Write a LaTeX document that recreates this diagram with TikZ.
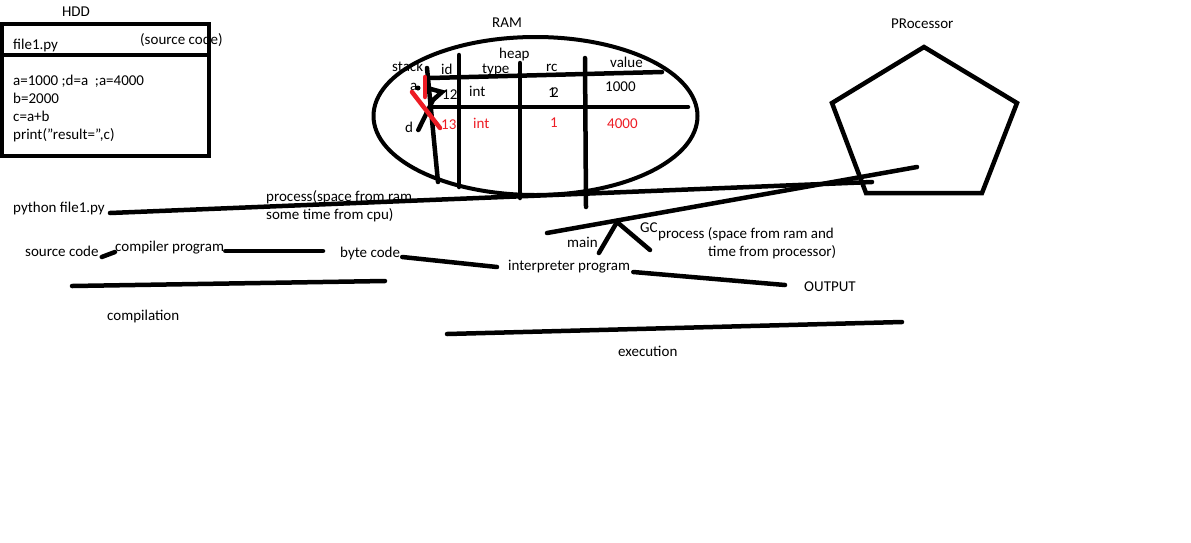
\documentclass[tikz,border=0pt]{standalone}
\usepackage{fontspec}
\setmainfont{Carlito}
\usepackage{tikz}
\definecolor{paintred}{RGB}{237,28,36}

\begin{document}
\begin{tikzpicture}[x=1pt,y=-1pt,
  txt/.style={anchor=base west,inner sep=0pt,font=\fontsize{15}{18}\selectfont},
  redtxt/.style={txt,text=paintred},
  stroke/.style={line width=4.5pt,line cap=round}]
\useasboundingbox (0,0) rectangle (1191,542);

% HDD
\node[txt,anchor=base] (hdd) at (76,16) {HDD};
\node[txt] (file) at (13,49) {file1.py};
\node[txt] (srclabel) at (140,44) {(source code)};
\node[txt] (line1) at (13,85) {a=1000 ;d=a \ ;a=4000};
\node[txt] (line2) at (13,103) {b=2000};
\node[txt] (line3) at (13,121) {c=a+b};
\node[txt] (line4) at (13,139) {print(\symbol{34}result=\symbol{34},c)};
\draw[line width=4.5pt] (2,24) rectangle (209,156);
\draw[line width=4.5pt] (2,55) -- (209,55);

% RAM
\node[txt,anchor=base] (ram) at (507,27) {RAM};
\draw[line width=4pt] (535.5,116) ellipse [x radius=162,y radius=79];
\begin{scope}[every node/.style={txt}]
\node (stack) at (392,71) {stack};
\node (id) at (441,74) {id};
\node (heap) at (499,58) {heap};
\node (type) at (482,73) {type};
\node (rc) at (546,71) {rc};
\node (value) at (610,67) {value};
\node (vara) at (410,90) {a};
\node (id12) at (442,99) {12};
\node (int1) at (469,96) {int};
\node (rcone) at (548,97) {1};
\node (rctwo) at (551,97) {2};
\node (val1000) at (605,91) {1000};
\node (vard) at (405,132) {d};
\node[redtxt] (id13) at (441,129) {13};
\node[redtxt] (int2) at (473,128) {int};
\node[redtxt] (rcred) at (550,127) {1};
\node[redtxt] (val4000) at (607,128) {4000};
\end{scope}
\draw[stroke] (427,68) -- (438,182);
\draw[stroke] (459,55) -- (459,187);
\draw[stroke] (520,63) -- (520,198);
\draw[stroke] (585,58) -- (586,207);
\draw[stroke] (430,78) -- (662,72);
\draw[stroke] (432,107) -- (688,107);
\fill (418,88) circle (2.5);
\draw[stroke] ([shift={(5,-2)}]vard.base east) -- (433,100) -- (442,92) -- (427,88);
\draw[stroke,paintred] (425,77) -- (425,97);
\draw[stroke,paintred] (412,92) -- (440,128);

% processor
\node[txt] (proc) at (891,28) {PRocessor};
\draw[line width=4.5pt] (924,47) -- (1017,103) -- (982,193) -- (866,193) -- (832,103) -- cycle;

% compilation / execution
\node[txt] (py) at (13,212) {python file1.py};
\node[txt] (proc1) at (266,201) {process(space from ram};
\node[txt] (proc2) at (266,219) {some time from cpu)};
\node[txt] (src) at (25,256) {source code};
\node[txt] (comp) at (115,251) {compiler program};
\node[txt] (byte) at (340,257) {byte code};
\node[txt] (interp) at (508,270) {interpreter program};
\node[txt] (out) at (804,291) {OUTPUT};
\node[txt] (compil) at (107,320) {compilation};
\node[txt] (exec) at (618,356) {execution};
\node[txt] (main) at (567,247) {main};
\node[txt] (gc) at (640,232) {GC};
\node[txt] (proc3) at (658,238) {process (space from ram and};
\node[txt] (proc4) at (708,256) {time from processor)};

\coordinate (pyend) at (872,182);
\coordinate (gcl) at (547,233);
\coordinate (gcr) at (917,167);
\coordinate (fork) at (617,222);
\coordinate (gcend) at (650,250);
\coordinate (compend) at (323,251);
\coordinate (cl) at (72,286);
\coordinate (cr) at (385,281);
\coordinate (el) at (447,334);
\coordinate (er) at (902,322);

\draw[stroke] ([shift={(5,1)}]py.base east) -- (pyend);
\draw[stroke] (gcl) -- (gcr);
\draw[stroke] ([shift={(1,6)}]main.base east) -- (fork) -- (gcend);
\draw[stroke] ([shift={(3,1)}]src.base east) -- ([shift={(0,1)}]comp.base west);
\draw[stroke] ([xshift=1]comp.base east) -- (compend);
\draw[stroke] ([xshift=2]byte.base east) -- ([shift={(-11,-3)}]interp.base west);
\draw[stroke] ([shift={(3,2)}]interp.base east) -- ([shift={(-19,-6)}]out.base west);
\draw[stroke] (cl) -- (cr);
\draw[stroke] (el) -- (er);
\end{tikzpicture}
\end{document}
